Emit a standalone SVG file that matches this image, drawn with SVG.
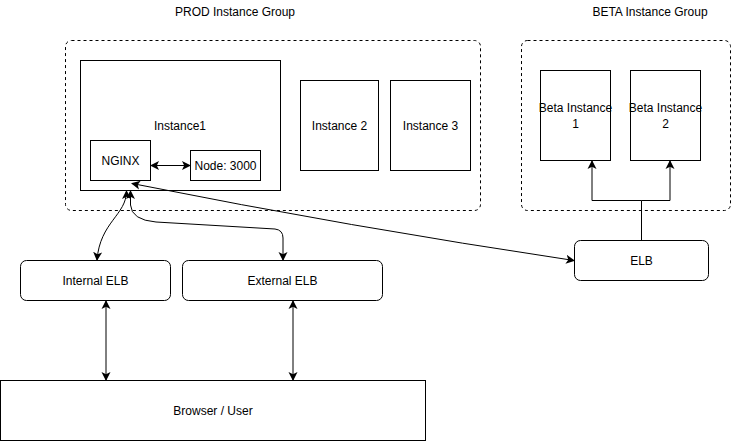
<svg xmlns="http://www.w3.org/2000/svg" width="732" height="441" viewBox="0 0 732 441">
<defs>
<marker id="arr" markerUnits="userSpaceOnUse" markerWidth="10" markerHeight="10" refX="8" refY="4.5" orient="auto-start-reverse" viewBox="0 0 10 9">
<path d="M0,0 L9,4.5 L0,9 L2.2,4.5 Z" fill="#000"/>
</marker>
<style>
text{font-family:"Liberation Sans",Arial,sans-serif;font-size:12px;fill:#000;text-anchor:middle;dominant-baseline:central}
.box{fill:#fff;stroke:#000;stroke-width:1}
.grp{fill:none;stroke:#000;stroke-width:1;stroke-dasharray:3 3}
.con{fill:none;stroke:#000;stroke-width:1}
.a2{marker-start:url(#arr);marker-end:url(#arr)}
.a1{marker-end:url(#arr)}
</style>
</defs>
<rect width="732" height="441" fill="#fff"/>
<g id="prod-group">
<rect class="grp" x="65.5" y="40.5" width="415" height="170" rx="6"/>
<text x="235" y="12">PROD Instance Group</text>
</g>
<g id="beta-group">
<rect class="grp" x="521.5" y="40.5" width="209" height="170" rx="6"/>
<text x="650" y="12">BETA Instance Group</text>
</g>
<g id="instance1">
<rect class="box" x="80.5" y="60.5" width="200" height="130"/>
<text x="180" y="126">Instance1</text>
</g>
<g id="nginx">
<rect class="box" x="90.5" y="140.5" width="60" height="40"/>
<text x="120.5" y="160.5">NGINX</text>
</g>
<g id="node3000">
<rect class="box" x="190.5" y="150.5" width="70" height="30"/>
<text x="225.5" y="166">Node: 3000</text>
</g>
<g id="instance2">
<rect class="box" x="300.5" y="80.5" width="78" height="90"/>
<text x="339.5" y="126">Instance 2</text>
</g>
<g id="instance3">
<rect class="box" x="390.5" y="80.5" width="80" height="90"/>
<text x="430.5" y="126">Instance 3</text>
</g>
<g id="beta1">
<rect class="box" x="540.5" y="70.5" width="70" height="90"/>
<text x="575.5" y="108">Beta Instance</text>
<text x="575.5" y="124">1</text>
</g>
<g id="beta2">
<rect class="box" x="630.5" y="70.5" width="70" height="90"/>
<text x="665.5" y="108">Beta Instance</text>
<text x="665.5" y="124">2</text>
</g>
<g id="internal-elb">
<rect class="box" x="20.5" y="260.5" width="150" height="40" rx="6"/>
<text x="95.5" y="280.5">Internal ELB</text>
</g>
<g id="external-elb">
<rect class="box" x="182.5" y="260.5" width="200" height="40" rx="6"/>
<text x="282.5" y="280.5">External ELB</text>
</g>
<g id="elb">
<rect class="box" x="574.5" y="240.5" width="134" height="40" rx="6"/>
<text x="641.5" y="260.5">ELB</text>
</g>
<g id="browser">
<rect class="box" x="0.5" y="380.5" width="425" height="60"/>
<text x="213" y="411">Browser / User</text>
</g>
<g id="connectors">
<path class="con a2" d="M151,165.5 H190"/>
<path class="con a2" d="M574,260.5 Q350,227 132,183.5"/>
<path class="con a2" d="M126.5,191 C126.5,215 100,222 97,260"/>
<path class="con a2" d="M130.5,191 L130.5,205 Q131.5,220 156,222 L275,229 Q283,230 283,238 L283,260"/>
<path class="con a2" d="M106,301 V380"/>
<path class="con a2" d="M293,301 V380"/>
<path class="con a1" d="M641.5,240 V200.5 H592 V161"/>
<path class="con a1" d="M641.5,200.5 H670 V161"/>
</g>
</svg>
